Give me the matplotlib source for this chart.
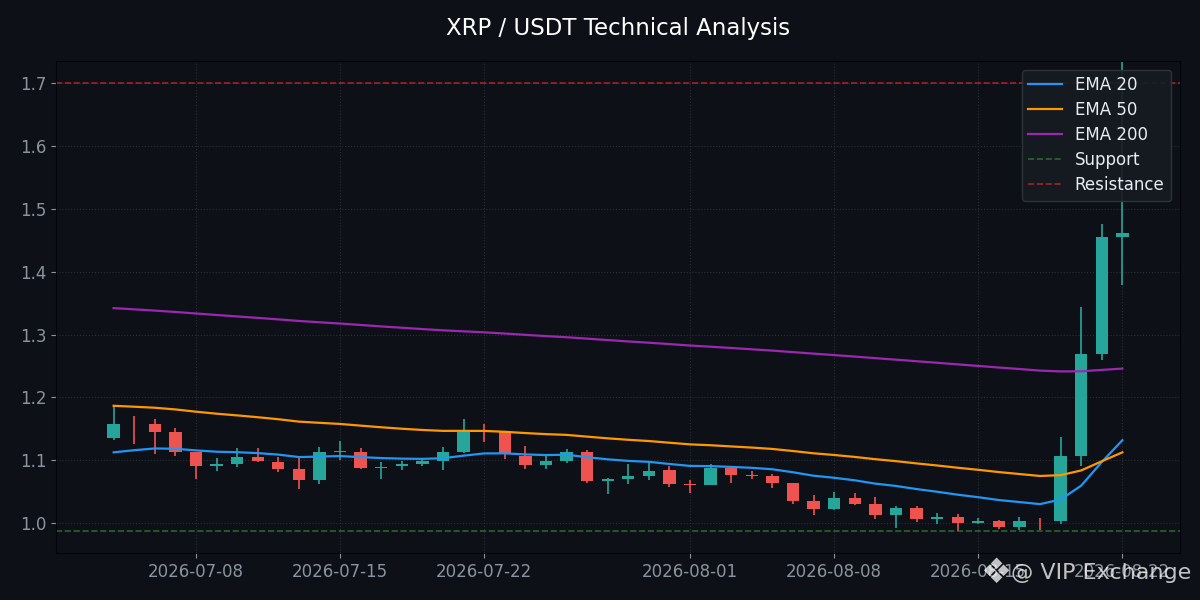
import matplotlib
matplotlib.use("Agg")
import matplotlib.pyplot as plt
import matplotlib.dates as mdates
import pandas as pd

# daily candles
dates = pd.date_range("2026-07-04", "2026-08-22", freq="D")
opens = [1.136, 1.1485, 1.157, 1.145, 1.113, 1.091, 1.094, 1.105, 1.097, 1.086,
         1.068, 1.113, 1.113, 1.087, 1.090, 1.094, 1.099, 1.113, 1.146, 1.145,
         1.107, 1.093, 1.099, 1.113, 1.067, 1.070, 1.075, 1.084, 1.062, 1.061,
         1.088, 1.077, 1.075, 1.064, 1.035, 1.022, 1.040, 1.030, 1.013, 1.024,
         1.006, 1.0095, 1.000, 1.003, 0.994, 0.9985, 1.003, 1.107, 1.269, 1.455]
highs = [1.186, 1.170, 1.165, 1.151, 1.113, 1.103, 1.119, 1.119, 1.105, 1.105,
         1.121, 1.130, 1.119, 1.097, 1.099, 1.104, 1.121, 1.165, 1.158, 1.145,
         1.122, 1.107, 1.118, 1.116, 1.072, 1.094, 1.097, 1.091, 1.068, 1.094,
         1.088, 1.083, 1.078, 1.064, 1.044, 1.049, 1.048, 1.041, 1.027, 1.027,
         1.016, 1.014, 1.008, 1.005, 1.0095, 1.008, 1.137, 1.344, 1.476, 1.780]
lows = [1.132, 1.126, 1.110, 1.107, 1.070, 1.083, 1.089, 1.097, 1.082, 1.054,
        1.062, 1.100, 1.086, 1.070, 1.084, 1.090, 1.084, 1.112, 1.129, 1.102,
        1.086, 1.086, 1.096, 1.064, 1.046, 1.062, 1.068, 1.057, 1.048, 1.061,
        1.064, 1.070, 1.056, 1.031, 1.013, 1.021, 1.029, 1.006, 0.992, 1.002,
        0.998, 0.987, 0.998, 0.990, 0.989, 0.989, 0.998, 1.090, 1.259, 1.379]
closes = [1.157, 1.1485, 1.145, 1.113, 1.091, 1.094, 1.105, 1.098, 1.086, 1.068,
          1.113, 1.115, 1.088, 1.089, 1.094, 1.099, 1.113, 1.145, 1.145, 1.112,
          1.093, 1.099, 1.113, 1.067, 1.070, 1.075, 1.083, 1.062, 1.061, 1.088,
          1.077, 1.075, 1.064, 1.035, 1.023, 1.040, 1.030, 1.013, 1.024, 1.007,
          1.0095, 1.000, 1.003, 0.994, 1.003, 0.9985, 1.107, 1.269, 1.455, 1.461]

ema20 = [1.1125, 1.1159, 1.1187, 1.1182, 1.1156, 1.1135, 1.1127, 1.1113, 1.1089, 1.1050,
         1.1058, 1.1066, 1.1049, 1.1034, 1.1025, 1.1021, 1.1032, 1.1072, 1.1108, 1.1109,
         1.1092, 1.1082, 1.1087, 1.1047, 1.1014, 1.0989, 1.0974, 1.0940, 1.0909, 1.0906,
         1.0893, 1.0879, 1.0856, 1.0808, 1.0753, 1.0720, 1.0680, 1.0627, 1.0590, 1.0541,
         1.0498, 1.0451, 1.0411, 1.0366, 1.0334, 1.0301, 1.0374, 1.0595, 1.0971, 1.1318]
ema50 = [1.1866, 1.1851, 1.1835, 1.1808, 1.1772, 1.1740, 1.1713, 1.1684, 1.1652, 1.1614,
         1.1595, 1.1577, 1.1550, 1.1524, 1.1501, 1.1481, 1.1467, 1.1467, 1.1466, 1.1452,
         1.1432, 1.1415, 1.1403, 1.1375, 1.1348, 1.1325, 1.1305, 1.1278, 1.1252, 1.1238,
         1.1219, 1.1201, 1.1179, 1.1146, 1.1110, 1.1083, 1.1052, 1.1016, 1.0985, 1.0949,
         1.0916, 1.0880, 1.0847, 1.0811, 1.0780, 1.0749, 1.0762, 1.0837, 1.0983, 1.1125]
ema200 = [1.3420, 1.3401, 1.3381, 1.3359, 1.3335, 1.3311, 1.3288, 1.3265, 1.3241, 1.3216,
          1.3195, 1.3175, 1.3152, 1.3129, 1.3108, 1.3087, 1.3067, 1.3051, 1.3035, 1.3016,
          1.2995, 1.2975, 1.2957, 1.2934, 1.2912, 1.2890, 1.2870, 1.2848, 1.2825, 1.2806,
          1.2786, 1.2765, 1.2744, 1.2720, 1.2696, 1.2673, 1.2649, 1.2624, 1.2600, 1.2575,
          1.2551, 1.2525, 1.2500, 1.2475, 1.2451, 1.2426, 1.2413, 1.2415, 1.2437, 1.2458]

support = 0.9876
resistance = 1.70

bg = '#0d1117'
up_col = '#26a69a'
down_col = '#ef5350'

fig, ax = plt.subplots(figsize=(12, 6), dpi=100)
fig.patch.set_facecolor(bg)
ax.set_facecolor(bg)
fig.subplots_adjust(left=0.047, right=0.983, bottom=0.078, top=0.898)

colors = [up_col if c > o else down_col for o, c in zip(opens, closes)]
body_h = [abs(c - o) for o, c in zip(opens, closes)]
body_b = [min(o, c) for o, c in zip(opens, closes)]

ax.vlines(dates, lows, highs, colors=colors, linewidth=1.2, zorder=2)
ax.bar(dates, body_h, bottom=body_b, width=0.6, color=colors, linewidth=0, zorder=3)

ax.plot(dates, ema20, color='#2196f3', linewidth=1.6, label='EMA 20', zorder=4)
ax.plot(dates, ema50, color='#ff9800', linewidth=1.6, label='EMA 50', zorder=4)
ax.plot(dates, ema200, color='#9c27b0', linewidth=1.6, label='EMA 200', zorder=4)

ax.axhline(support, color='#2e7d32', linestyle='--', linewidth=1.2, alpha=0.8, label='Support')
ax.axhline(resistance, color='#c62828', linestyle='--', linewidth=1.2, alpha=0.8, label='Resistance')

ax.set_ylim(0.952, 1.735)
ax.xaxis.set_major_locator(mdates.DayLocator(bymonthday=[1, 8, 15, 22]))
ax.xaxis.set_major_formatter(mdates.DateFormatter('%Y-%m-%d'))

ax.grid(True, color='#30363d', linestyle=':', linewidth=0.8, alpha=0.8)
ax.set_axisbelow(True)
ax.tick_params(colors='#8b949e', labelsize=12)
for sp in ax.spines.values():
    sp.set_color('#010409')

ax.set_title('XRP / USDT Technical Analysis', color='white', fontsize=16.5, pad=19)

leg = ax.legend(loc='upper right', fontsize=12, facecolor='#161b22',
                edgecolor='#30363d', framealpha=0.9, labelspacing=0.42)
for t in leg.get_texts():
    t.set_color('#e6edf3')

# watermark: logo glyph + exchange name
fig.text(0.830, 0.045, '\u2756', ha='center', va='center',
         fontsize=25, color='white', alpha=0.75)
fig.text(0.993, 0.045, '@ VIP Exchange', ha='right', va='center',
         fontsize=16, color='white', alpha=0.75)

fig.savefig('out.png', facecolor=fig.get_facecolor())
